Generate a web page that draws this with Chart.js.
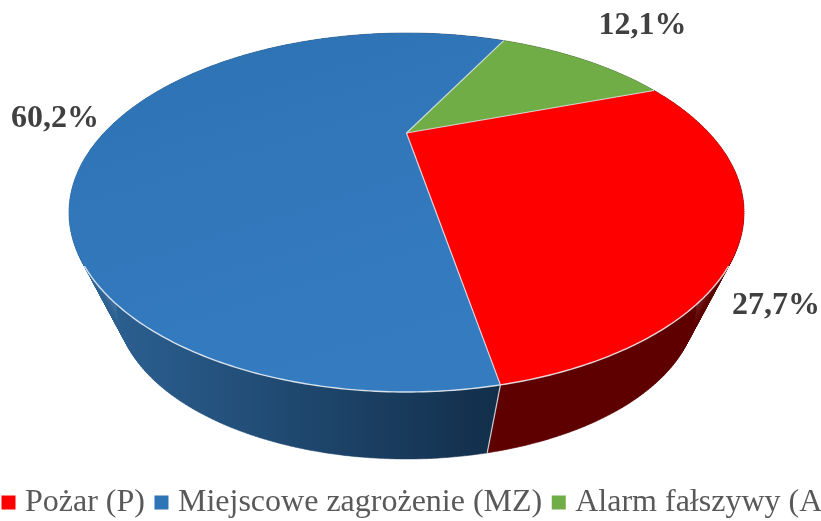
<!DOCTYPE html>
<html><head><meta charset="utf-8">
<script src="https://cdn.jsdelivr.net/npm/chart.js@4/dist/chart.umd.min.js"></script>
<style>html,body{margin:0;padding:0;background:#fff;overflow:hidden}#w{width:821px;height:521px;position:relative;overflow:hidden}</style>
</head><body><div id="w"><canvas id="c" width="821" height="521"></canvas></div>
<script>
const categories = ['Pożar (P)', 'Miejscowe zagrożenie (MZ)', 'Alarm fałszywy (A'];
const shares = [27.7, 60.2, 12.1];
const percentLabels = ['27,7%', '60,2%', '12,1%'];
const topColors = ['#ff0000', '#2e75b6', '#70ad47'];

const TOP = {cx: 406.5, cy: 212.5, a: 337.5, b: 179.5};
const BOTTOM = {cx: 406.5, cy: 304, a: 290, b: 155};
const BETA = -0.443, S = Math.sqrt(1 - BETA * BETA);
const labelShift = [[33, 80], [-70, 5], [61, -33]];

// circle angle -> point on the perspective rim
function rim(angle, e) {
  const u = Math.cos(angle), v = Math.sin(angle), d = 1 + BETA * v;
  return [e.cx + e.a * u * S / d, e.cy + e.b * (v + BETA) / d];
}
const apex = [TOP.cx, TOP.cy + TOP.b * BETA];

function tracePath(ctx, arc, e) {
  const n = Math.ceil((arc.endAngle - arc.startAngle) * 90);
  for (let k = 0; k <= n; k++) {
    const p = rim(arc.startAngle + (arc.endAngle - arc.startAngle) * k / n, e);
    ctx.lineTo(p[0], p[1]);
  }
}

const perspectivePie = {
  id: 'perspectivePie',
  beforeDatasetDraw(chart, args) {
    const ctx = chart.ctx, arcs = chart.getDatasetMeta(args.index).data;
    ctx.save();
    ctx.lineJoin = 'round';
    // walls: one path of quads joining the two rims
    arcs.forEach((arc, i) => {
      let fill = i === 0 ? '#5e0000' : '#38562a';
      if (i === 1) {
        fill = ctx.createLinearGradient(100, 0, 500, 0);
        fill.addColorStop(0, '#2c6193');
        fill.addColorStop(1, '#122e4a');
      }
      const span = arc.endAngle - arc.startAngle, n = Math.ceil(span * 90);
      ctx.beginPath();
      for (let k = 0; k < n; k++) {
        const a0 = arc.startAngle + span * k / n, a1 = arc.startAngle + span * (k + 1) / n;
        const p = rim(a0, TOP), q = rim(a1, TOP), r = rim(a1, BOTTOM), s = rim(a0, BOTTOM);
        ctx.moveTo(p[0], p[1]); ctx.lineTo(q[0], q[1]); ctx.lineTo(r[0], r[1]); ctx.lineTo(s[0], s[1]);
        ctx.closePath();
      }
      ctx.fillStyle = fill; ctx.strokeStyle = fill; ctx.lineWidth = 0.5;
      ctx.fill(); ctx.stroke();
    });
    // seams on the walls (only front ones are seen)
    arcs.forEach(arc => {
      if (Math.sin(arc.startAngle) > 0.5) {
        const p = rim(arc.startAngle, TOP), s = rim(arc.startAngle, BOTTOM);
        ctx.beginPath(); ctx.moveTo(p[0], p[1]); ctx.lineTo(s[0], s[1]);
        ctx.strokeStyle = 'rgba(225,232,238,0.85)'; ctx.lineWidth = 1.2; ctx.stroke();
      }
    });
    // top faces
    arcs.forEach((arc, i) => {
      ctx.beginPath();
      ctx.moveTo(apex[0], apex[1]);
      tracePath(ctx, arc, TOP);
      ctx.closePath();
      let fill = topColors[i];
      if (i === 1) {
        fill = ctx.createLinearGradient(200, 60, 300, 380);
        fill.addColorStop(0, '#2e74b5');
        fill.addColorStop(1, '#357bc0');
      }
      ctx.fillStyle = fill; ctx.fill();
    });
    // radial edges
    arcs.forEach(arc => {
      const p = rim(arc.startAngle, TOP);
      ctx.beginPath(); ctx.moveTo(apex[0], apex[1]); ctx.lineTo(p[0], p[1]);
      ctx.strokeStyle = 'rgba(235,240,245,0.8)'; ctx.lineWidth = 1.2; ctx.stroke();
    });
    // highlight on the front rim
    ctx.save();
    ctx.beginPath(); ctx.rect(0, 266, chart.width, chart.height - 266); ctx.clip();
    arcs.forEach(arc => {
      ctx.beginPath();
      tracePath(ctx, arc, TOP);
      ctx.strokeStyle = 'rgba(240,244,248,0.85)'; ctx.lineWidth = 1.4; ctx.stroke();
    });
    ctx.restore();
    // percent labels
    ctx.font = 'bold 32px "Liberation Serif"';
    ctx.fillStyle = '#404040'; ctx.textAlign = 'center'; ctx.textBaseline = 'middle';
    arcs.forEach((arc, i) => {
      const m = rim((arc.startAngle + arc.endAngle) / 2, TOP);
      ctx.fillText(percentLabels[i], m[0] + labelShift[i][0], m[1] + labelShift[i][1]);
    });
    ctx.restore();
    return false;
  }
};

new Chart(document.getElementById('c'), {
  type: 'pie',
  data: {labels: categories, datasets: [{data: shares, backgroundColor: topColors, borderWidth: 0}]},
  options: {
    responsive: false, animation: false, rotation: 70.2,
    layout: {padding: {left: -8, right: -60, top: 0, bottom: -7.5}},
    plugins: {
      tooltip: {enabled: false},
      legend: {
        position: 'bottom', align: 'start',
        labels: {
          color: '#595959', font: {family: '"Liberation Serif"', size: 32},
          usePointStyle: true, pointStyle: 'rect', boxWidth: 1, boxHeight: 14, padding: 16
        }
      }
    }
  },
  plugins: [perspectivePie]
});
</script></body></html>
